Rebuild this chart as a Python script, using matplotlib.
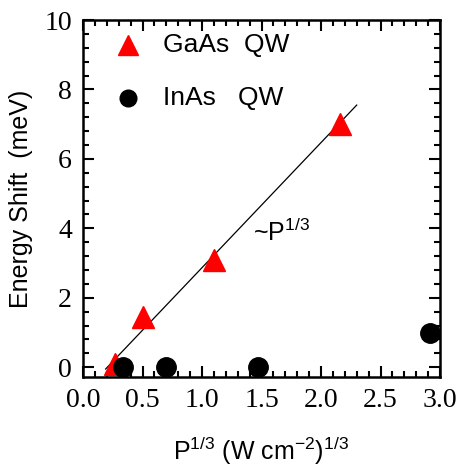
import numpy as np
import matplotlib
matplotlib.use("Agg")
import matplotlib.pyplot as plt
from matplotlib.ticker import MultipleLocator

plt.rcParams["mathtext.fontset"] = "custom"
plt.rcParams["mathtext.rm"] = "Liberation Sans"
plt.rcParams["mathtext.it"] = "Liberation Sans"

# data
gaas_x = [0.27, 0.50, 1.10, 2.16]
gaas_y = [0.10, 1.45, 3.10, 7.00]
inas_x = [0.34, 0.70, 1.47, 2.92]
inas_y = [0.00, 0.00, 0.00, 1.00]
fit_x = [0.19, 2.30]
fit_y = [-0.05, 7.55]

fig = plt.figure(figsize=(4.58, 4.66), dpi=100)
ax = fig.add_axes([83/458, 89/466, 357/458, 357/466])

ax.plot(fit_x, fit_y, color="black", lw=0.9)
ax.plot(gaas_x, gaas_y, ls="none", marker="^", ms=16, color="red", mec="red")
ax.plot(inas_x, inas_y, ls="none", marker="o", ms=14, color="black")

ax.set_xlim(0, 3.0)
ax.set_ylim(-0.28, 10)
ax.xaxis.set_minor_locator(MultipleLocator(0.1))
ax.yaxis.set_minor_locator(MultipleLocator(0.4))
ax.tick_params(which="both", direction="in", top=True, right=True, width=1.5)
ax.tick_params(which="major", length=8, pad=8)
ax.tick_params(which="minor", length=4)
for s in ax.spines.values():
    s.set_linewidth(1.8)
xt = np.arange(0, 3.01, 0.5)
yt = np.arange(0, 10.1, 2)
ax.set_xticks(xt)
ax.set_xticklabels(["%.1f" % v for v in xt], family="Liberation Serif", fontsize=20)
ax.set_yticks(yt)
ax.set_yticklabels(["%d" % v for v in yt], family="Liberation Serif", fontsize=20)

ax.set_xlabel(r"P$^{1/3}$ (W cm$^{-2}$)$^{1/3}$", family="Liberation Sans", fontsize=18, labelpad=16)
ax.set_ylabel("Energy Shift  (meV)", family="Liberation Sans", fontsize=18, labelpad=8)

ax.text(1.43, 3.65, r"~P$^{1/3}$", family="Liberation Sans", fontsize=18)

# legend drawn by hand to match layout
ax.plot([0.38], [9.28], ls="none", marker="^", ms=14, color="red")
ax.plot([0.38], [7.75], ls="none", marker="o", ms=12, color="black")
ax.text(0.67, 9.28, "GaAs  QW", family="Liberation Sans", fontsize=19, va="center")
ax.text(0.67, 7.75, "InAs   QW", family="Liberation Sans", fontsize=19, va="center")

fig.savefig("out.png", dpi=100)
